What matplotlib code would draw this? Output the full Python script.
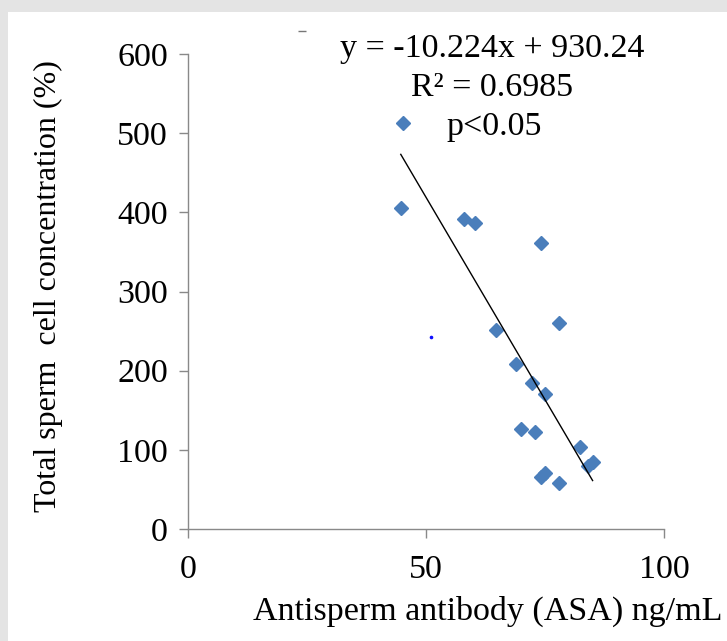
import numpy as np
import matplotlib.pyplot as plt
from matplotlib.patches import Rectangle

plt.rcParams['font.family'] = ['Liberation Serif', 'DejaVu Serif']

# antisperm antibody (ng/mL) vs total sperm cell concentration
asa = [44.7, 58.0, 60.2, 74.1, 78.0, 64.8, 68.9, 72.2, 75.0, 69.9,
       73.0, 82.4, 85.0, 84.1, 74.2, 75.1, 78.0]
conc = [405, 391, 386, 361, 260, 252, 208, 185, 170, 126,
        123, 103, 85, 79, 66, 71, 58]

slope = -10.224
intercept = 930.24
r2 = 0.6985

x_ticks = [0, 50, 100]
y_ticks = [0, 100, 200, 300, 400, 500, 600]

blue = '#4A7EBB'
axis_grey = '#898989'
fs = 24.5

fig = plt.figure(figsize=(7.27, 6.41), dpi=100)
fig.patch.set_facecolor('white')

# grey frame strips on top and left edge of the picture
fig.patches.append(Rectangle((0, 1 - 12 / 641), 1, 12 / 641, transform=fig.transFigure,
                             facecolor='#e4e4e4', edgecolor='none', zorder=0))
fig.patches.append(Rectangle((0, 0), 8 / 727, 1, transform=fig.transFigure,
                             facecolor='#e4e4e4', edgecolor='none', zorder=0))

ax = fig.add_axes([188 / 727, 1 - 529 / 641, 476 / 727, 475 / 641])

ax.plot(asa, conc, linestyle='none', marker='D', markersize=7.3,
        color=blue, markeredgecolor=blue, label='p<0.05', zorder=3)

# linear trend line over the data range
xs = np.array([min(asa), max(asa)])
ax.plot(xs, slope * xs + intercept, color='black', linewidth=1.0, zorder=4)

# small stray marks in the original
ax.plot([51.0], [242], marker='o', markersize=1.6, color='#1010ff', linestyle='none')
ax.plot([23.9], [629], marker='_', markersize=6, color='#777777', linestyle='none', clip_on=False)

ax.set_xlim(0, 100)
ax.set_ylim(0, 600)
ax.set_xticks(x_ticks)
ax.set_yticks(y_ticks)

for side in ['top', 'right']:
    ax.spines[side].set_visible(False)
for side in ['left', 'bottom']:
    ax.spines[side].set_color(axis_grey)
    ax.spines[side].set_linewidth(1.0)

ax.tick_params(axis='both', direction='out', length=6.5, width=1.0,
               color=axis_grey, labelsize=fs, labelcolor='black')
ax.tick_params(axis='x', pad=12)
ax.tick_params(axis='y', pad=8)

ax.set_xlabel('Antisperm antibody (ASA) ng/mL', fontsize=fs)
ax.xaxis.set_label_coords((488 - 188) / 476, -0.14)
ax.set_ylabel('Total sperm  cell concentration (%)', fontsize=23)
ax.yaxis.set_label_coords(-0.262, (529 - 286) / 475)

ax.text(0.639, 1.01, f'y = {slope}x + {intercept}', transform=ax.transAxes,
        ha='center', va='center', fontsize=fs)
ax.text(0.639, 0.93, f'R² = {r2}', transform=ax.transAxes,
        ha='center', va='center', fontsize=fs)

ax.legend(loc='center left', bbox_to_anchor=(0.415, 0.847), frameon=False,
          fontsize=fs, handlelength=1.0, handletextpad=0.78,
          borderpad=0, borderaxespad=0)

fig.savefig('out.png', dpi=100)
